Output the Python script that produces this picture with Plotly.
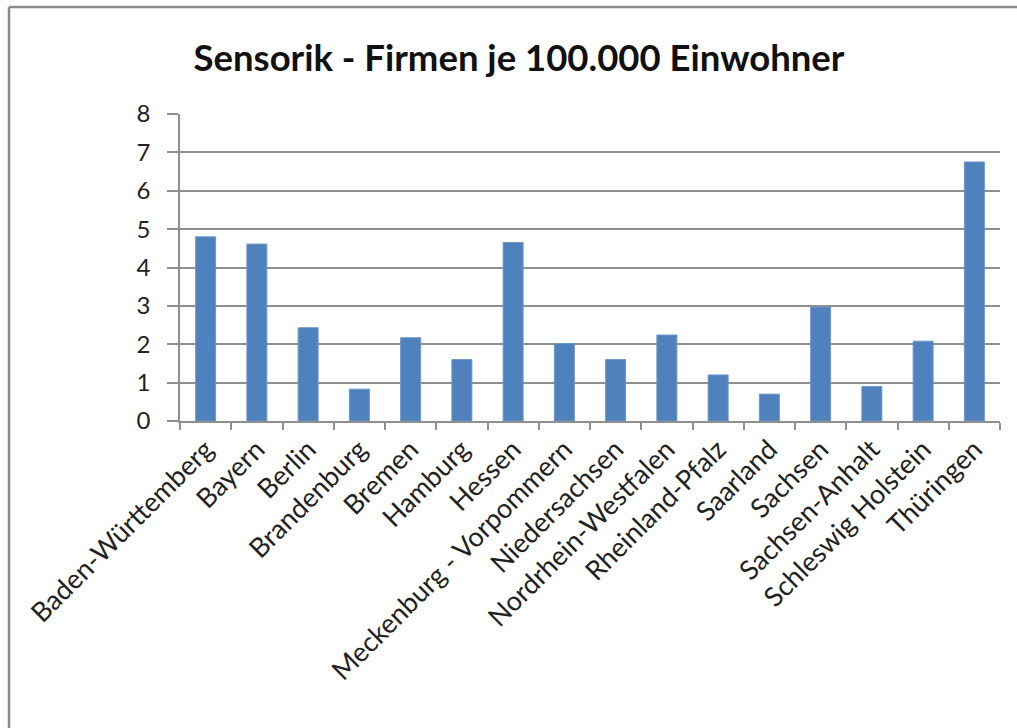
import plotly.graph_objects as go

categories = ["Baden-Württemberg", "Bayern", "Berlin", "Brandenburg", "Bremen", "Hamburg",
              "Hessen", "Meckenburg - Vorpommern", "Niedersachsen", "Nordrhein-Westfalen",
              "Rheinland-Pfalz", "Saarland", "Sachsen", "Sachsen-Anhalt", "Schleswig Holstein",
              "Thüringen"]
values = [4.80, 4.61, 2.43, 0.83, 2.17, 1.60, 4.65, 2.02, 1.60, 2.24, 1.20, 0.70, 2.97, 0.90, 2.08, 6.75]
y_ticks = [0, 1, 2, 3, 4, 5, 6, 7, 8]

# body margin is removed in the page, so the figure fills the window
W, H = 1017, 728
L, R, T = 180, 17, 114
B = H - 421
pw, ph = W - L - R, H - T - B

bx0 = (9 - L) / pw          # left frame edge (paper coords)
by_top = (H - B - 7) / ph   # top frame edge
bx_right = (W - L) / pw
by_bottom = (-B) / ph

fig = go.Figure(go.Bar(
    x=categories, y=values,
    marker=dict(color="#4F81BD", line=dict(color="#6d96c8", width=1)),
))

frame = dict(color="#8a8a8a", width=2.5)
fig.update_layout(
    width=W, height=H,
    margin=dict(l=L, r=R, t=T, b=B, autoexpand=False),
    paper_bgcolor="white", plot_bgcolor="white",
    font=dict(family="Lato, Calibri, sans-serif", color="#222"),
    bargap=0.61,
    showlegend=False,
    title=dict(text="<b>Sensorik - Firmen je 100.000 Einwohner</b>",
               x=519 / W, xanchor="center", xref="container",
               y=1 - 58 / H, yanchor="middle", yref="container",
               font=dict(size=36.5, color="#111", family="Lato, Calibri, sans-serif")),
    shapes=[
        dict(type="line", xref="paper", yref="paper", x0=bx0, x1=bx_right, y0=by_top, y1=by_top,
             line=frame, layer="below"),
        dict(type="line", xref="paper", yref="paper", x0=bx0, x1=bx0, y0=by_top, y1=by_bottom,
             line=frame, layer="below"),
    ],
)

fig.update_yaxes(
    range=[0, 8], tickvals=y_ticks, ticktext=[str(v) for v in y_ticks],
    showgrid=True, gridcolor="#8f8f8f", gridwidth=1.6,
    showline=True, linecolor="#8f8f8f", linewidth=1.6,
    ticks="outside", ticklen=11, tickcolor="#8f8f8f", tickwidth=1.6,
    tickfont=dict(size=24, color="#222"), ticklabelstandoff=12,
    zeroline=False, fixedrange=True,
)
fig.update_xaxes(
    tickangle=-45, tickson="boundaries",
    showline=True, linecolor="#8f8f8f", linewidth=1.6,
    ticks="outside", ticklen=7, tickcolor="#8f8f8f", tickwidth=1.6,
    tickfont=dict(size=27, color="#222"), fixedrange=True,
)

fig.write_html("out.html", config={"displayModeBar": False},
               post_script="document.body.style.margin='0';document.body.style.overflow='hidden';")
